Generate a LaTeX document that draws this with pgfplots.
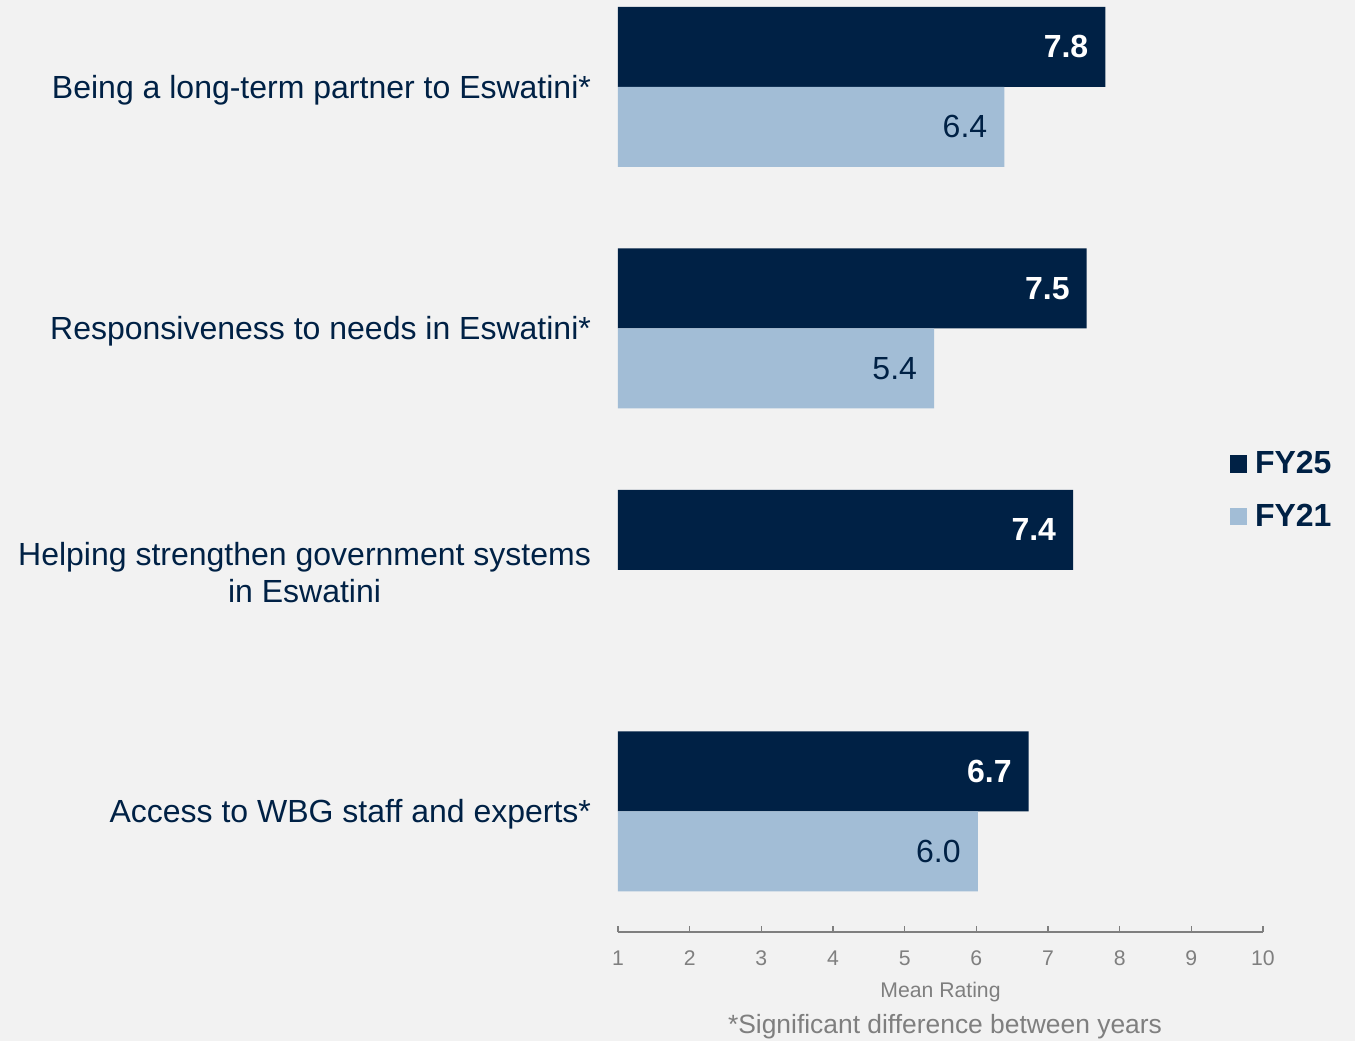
\documentclass[border=0pt]{standalone}
\usepackage{pgfplots}
\pgfplotsset{compat=1.18}
\usepackage{fontspec}
\setmainfont{Liberation Sans}
\definecolor{navy}{HTML}{002145}
\definecolor{lblue}{HTML}{A2BDD6}
\definecolor{bg}{HTML}{F2F2F2}
\definecolor{gtext}{HTML}{7F7F7F}
\begin{document}
\begin{tikzpicture}
\fill[bg] (0,0) rectangle (677.5pt,520.5pt);
\useasboundingbox (0,0) rectangle (677.5pt,520.5pt);
\begin{axis}[
  at={(309pt,54.5pt)}, anchor=south west,
  scale only axis, width=322.5pt, height=466pt,
  xbar, bar width=40pt,
  xmin=1, xmax=10, ymin=-0.5, ymax=3.36,
  axis x line*=bottom, axis y line*=left,
  y axis line style={draw=none}, ytick style={draw=none},
  x axis line style={draw=gtext, line width=0.8pt},
  xtick={1,...,10}, tick align=inside, major tick length=3pt,
  x tick style={draw=gtext, line width=0.8pt},
  xticklabel style={text=gtext, font=\fontsize{10.6}{12}\selectfont, yshift=-6pt},
  /pgf/number format/assume math mode=true,
  ytick={0,1,2,3},
  yticklabels={Access to WBG staff and experts*, {Helping strengthen government systems\\in Eswatini}, Responsiveness to needs in Eswatini*, Being a long-term partner to Eswatini*},
  yticklabel style={align=center, text=navy, font=\fontsize{16}{18.5}\selectfont, xshift=-10pt, yshift=-1.5pt},
  xlabel={Mean Rating}, xlabel style={text=gtext, font=\fontsize{10.6}{12}\selectfont, yshift=-1pt},
  nodes near coords, point meta=explicit symbolic,
  legend style={at={(0.948,0.474)}, anchor=west, draw=none, fill=none, font=\fontsize{16}{18}\selectfont\bfseries, text=navy, row sep=9.5pt, inner sep=0pt},
  legend cell align=left,
  legend image code/.code={\fill[#1] (0pt,-4.3pt) rectangle (8.6pt,4.3pt);},
]
\addplot[fill=navy, draw=none, bar shift=20pt,
  every node near coord/.style={anchor=east, xshift=-5pt, yshift=20pt, text=white, font=\fontsize{16}{18}\selectfont\bfseries}]
  coordinates {(7.8,3) [7.8] (7.54,2) [7.5] (7.35,1) [7.4] (6.73,0) [6.7]};
\addplot[fill=lblue, draw=none, bar shift=-20pt,
  every node near coord/.style={anchor=east, xshift=-5pt, yshift=-20pt, text=navy, font=\fontsize{16}{18}\selectfont}]
  coordinates {(6.39,3) [6.4] (5.41,2) [5.4] (6.02,0) [6.0]};
\legend{\hspace{2pt}FY25, \hspace{2pt}FY21}
\end{axis}
\node[text=gtext, font=\fontsize{13.2}{15}\selectfont] at (472.5pt,7pt) {*Significant difference between years};
\end{tikzpicture}
\end{document}
